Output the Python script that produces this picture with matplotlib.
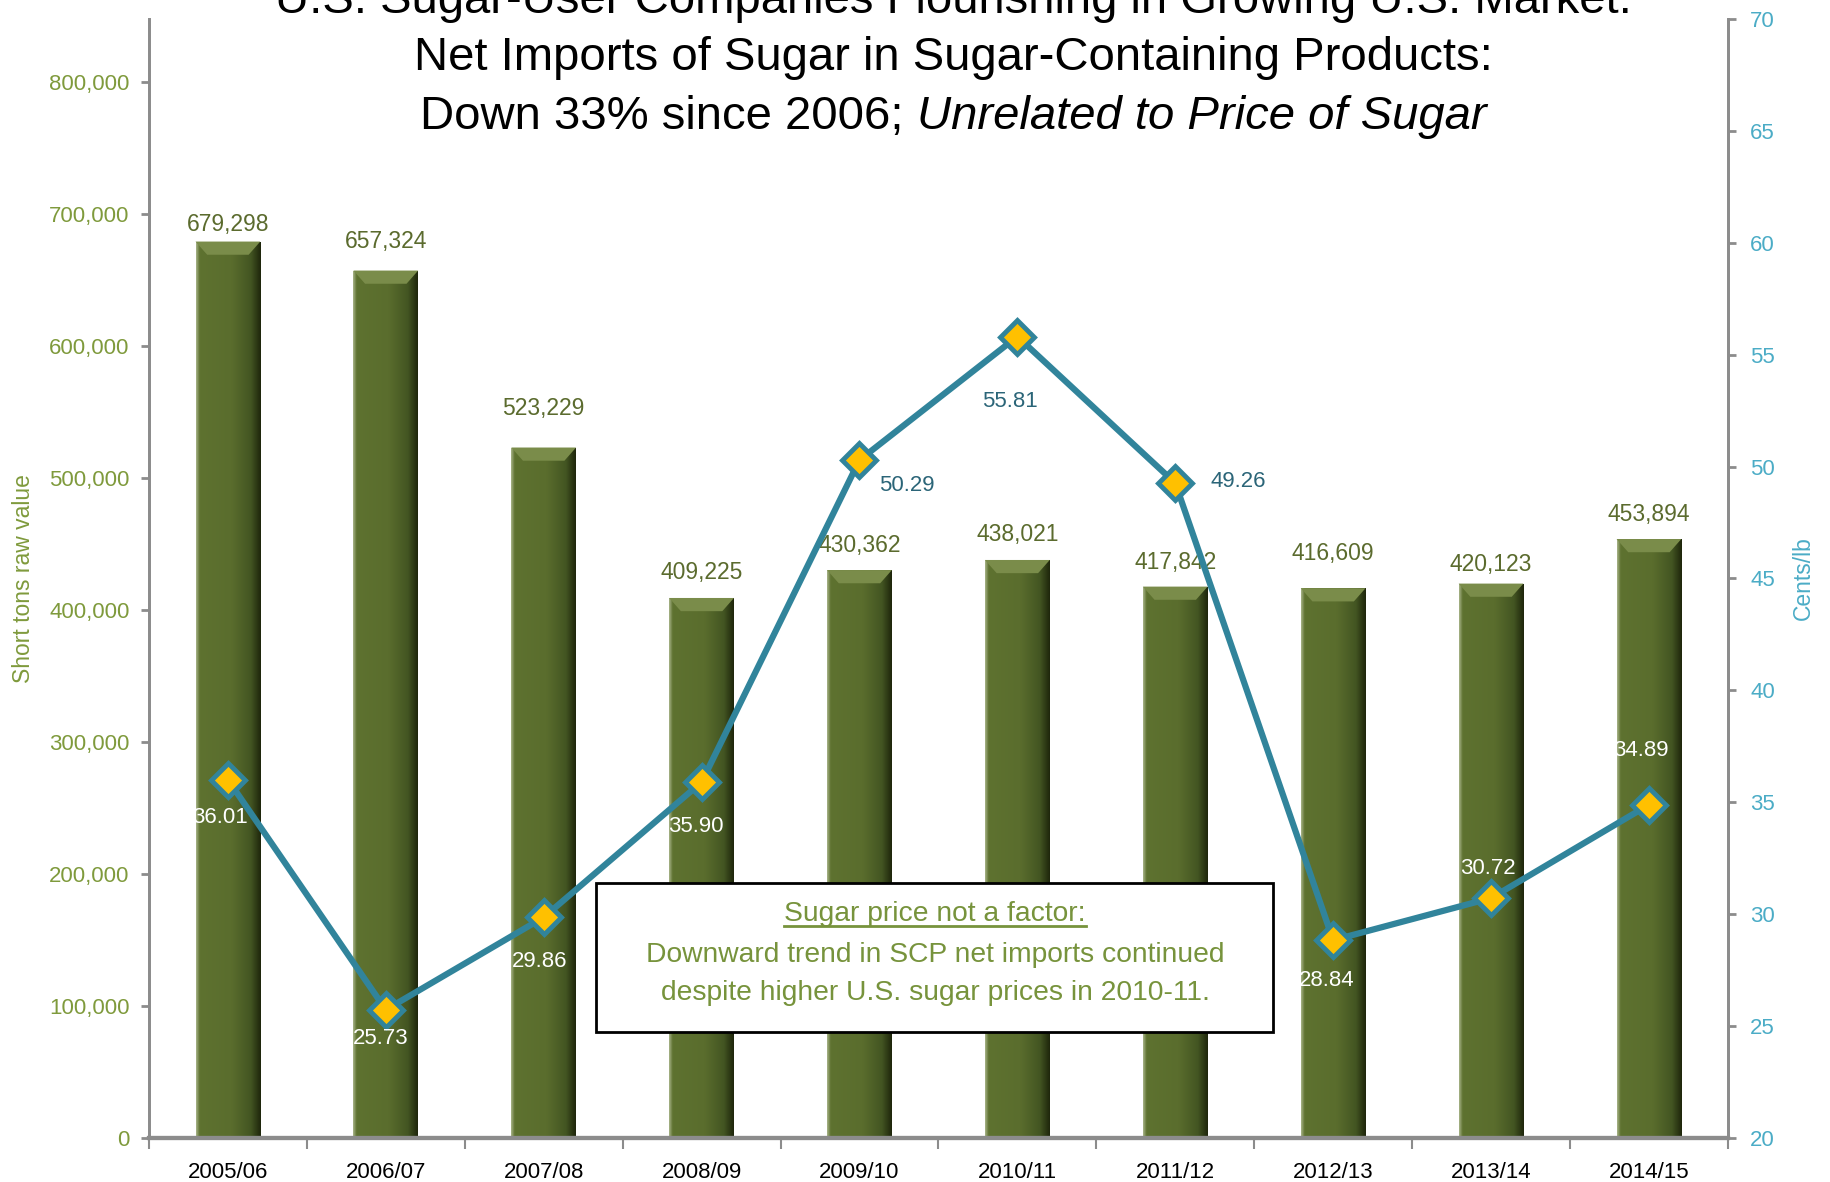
import numpy as np
import matplotlib
matplotlib.use("Agg")
import matplotlib.pyplot as plt
from matplotlib.colors import LinearSegmentedColormap
from matplotlib.patches import Rectangle, Polygon
from matplotlib.ticker import FuncFormatter

plt.rcParams['font.family'] = ['Liberation Sans', 'DejaVu Sans']

years = ['2005/06', '2006/07', '2007/08', '2008/09', '2009/10',
         '2010/11', '2011/12', '2012/13', '2013/14', '2014/15']
net_imports = [679298, 657324, 523229, 409225, 430362,
               438021, 417842, 416609, 420123, 453894]
sugar_price = [36.01, 25.73, 29.86, 35.90, 50.29,
               55.81, 49.26, 28.84, 30.72, 34.89]
left_ticks = [0, 100000, 200000, 300000, 400000, 500000, 600000, 700000, 800000]
right_ticks = [20, 25, 30, 35, 40, 45, 50, 55, 60, 65, 70]

# label placement (offsets in points)
bar_label_dy = [12, 21, 28, 18, 18, 18, 17, 25, 14, 18]
price_offsets = [(-6, -27), (-4, -21), (-3, -32), (-4, -32), (34, -18),
                 (-5, -47), (45, 1), (-5, -29), (-2, 21), (-6, 39)]
price_colors = ['white', 'white', 'white', 'white', '#2B6578',
                '#2B6578', '#2B6578', 'white', 'white', 'white']

OLIVE_TXT = '#5B6B2E'
OLIVE_LIGHT = '#7F9A3C'
TEAL = '#31849B'
TEAL_LIGHT = '#4BACC6'
GREY = '#8C8C8C'

fig = plt.figure(figsize=(18.3, 11.82), dpi=100)
ax = fig.add_axes([0.0814, 0.0372, 0.8628, 0.9468])
ax2 = ax.twinx()

x = np.arange(len(years))
bars = ax.bar(x, net_imports, width=0.41, color='#586B2C', zorder=2)

# shaded bar faces
bar_cmap = LinearSegmentedColormap.from_list(
    'bar', [(0, '#A3B083'), (0.05, '#5E7230'), (0.55, '#5A6D2D'),
            (0.85, '#435522'), (1, '#1F270C')])
grad = np.linspace(0, 1, 100).reshape(1, -1)
for b, dy in zip(bars, bar_label_dy):
    x0, w, h = b.get_x(), b.get_width(), b.get_height()
    im = ax.imshow(grad, cmap=bar_cmap, aspect='auto', zorder=2,
                   extent=(x0, x0 + w, 0, h), interpolation='bilinear')
    im.set_clip_path(b)
    bev = 10000
    ax.add_patch(Polygon([(x0, h), (x0 + w, h), (x0 + w * 0.82, h - bev),
                          (x0 + w * 0.18, h - bev)], closed=True,
                         facecolor='#7A8C4A', edgecolor='none', zorder=3))
    ax.annotate(f'{h:,.0f}', xy=(x0 + w / 2, h), xytext=(0, dy),
                textcoords='offset points', ha='center', va='center',
                fontsize=16.5, color=OLIVE_TXT, zorder=4)

ax.set_xlim(-0.5, 9.5)
ax.set_ylim(0, 848000)
ax.set_yticks(left_ticks)
ax.yaxis.set_major_formatter(FuncFormatter(lambda v, p: f'{v:,.0f}'))
ax.tick_params(axis='y', colors=GREY, labelcolor=OLIVE_LIGHT, labelsize=16,
               length=6, width=2, direction='out', pad=8)
ax.set_xticks(x)
ax.set_xticklabels(years)
ax.set_xticks(np.arange(-0.5, 10, 1), minor=True)
ax.tick_params(axis='x', which='major', length=0, labelsize=16,
               labelcolor='black', pad=17)
ax.tick_params(axis='x', which='minor', length=8, width=1.5, colors=GREY)
ax.set_ylabel('Short tons raw value', color=OLIVE_LIGHT, fontsize=16.5, labelpad=10)

ax2.plot(x, sugar_price, color=TEAL, linewidth=4.5, marker='D',
         markersize=17, markerfacecolor='#FFC000', markeredgecolor=TEAL,
         markeredgewidth=3.5, zorder=5)
for xi, v, off, c in zip(x, sugar_price, price_offsets, price_colors):
    ax2.annotate(f'{v:.2f}', xy=(xi, v), xytext=off, textcoords='offset points',
                 ha='center', va='center', fontsize=16, color=c, zorder=6)
ax2.set_ylim(20, 70)
ax2.set_yticks(right_ticks)
ax2.tick_params(axis='y', colors=GREY, labelcolor=TEAL_LIGHT, labelsize=16,
                length=6, width=2, direction='out', pad=10)
ax2.set_ylabel('Cents/lb', color=TEAL_LIGHT, fontsize=16.5, labelpad=12)

for a in (ax, ax2):
    a.spines['top'].set_visible(False)
    for s in ('left', 'right', 'bottom'):
        a.spines[s].set_color(GREY)
        a.spines[s].set_linewidth(2)
    a.spines['bottom'].set_linewidth(3)

# title (first line runs off the top of the image, as in the source)
fig.text(0.521, 0.999, 'U.S. Sugar-User Companies Flourishing in Growing U.S. Market:',
         ha='center', va='center', fontsize=34)
fig.text(0.521, 1 - 58 / 1182, 'Net Imports of Sugar in Sugar-Containing Products:',
         ha='center', va='center', fontsize=34)
t1 = fig.text(0.5, 1 - 117 / 1182, 'Down 33% since 2006; ',
              ha='left', va='center', fontsize=34)
t2 = fig.text(0.5, 1 - 117 / 1182, 'Unrelated to Price of Sugar',
              ha='left', va='center', fontsize=34, style='italic')
fig.canvas.draw()
r = fig.canvas.get_renderer()
w1 = t1.get_window_extent(r).width / fig.bbox.width
w2 = t2.get_window_extent(r).width / fig.bbox.width
start = 0.521 - (w1 + w2) / 2
t1.set_x(start)
t2.set_x(start + w1)

# note box
fig.patches.append(Rectangle((0.3257, 0.127), 0.3699, 0.126,
                             transform=fig.transFigure, facecolor='white',
                             edgecolor='black', linewidth=2, zorder=10))
BOX_TXT = '#77933C'
hd = fig.text(0.511, 1 - 914 / 1182, 'Sugar price not a factor:', ha='center',
              va='center', fontsize=20.3, color=BOX_TXT, zorder=11)
fig.text(0.511, 1 - 955 / 1182, 'Downward trend in SCP net imports continued',
         ha='center', va='center', fontsize=20.3, color=BOX_TXT, zorder=11)
fig.text(0.511, 1 - 993 / 1182, 'despite higher U.S. sugar prices in 2010-11.',
         ha='center', va='center', fontsize=20.3, color=BOX_TXT, zorder=11)
fig.canvas.draw()
bb = hd.get_window_extent(fig.canvas.get_renderer()).transformed(fig.transFigure.inverted())
fig.add_artist(plt.Line2D([bb.x0, bb.x1], [bb.y0 + 0.001, bb.y0 + 0.001],
                          color=BOX_TXT, linewidth=2, transform=fig.transFigure,
                          zorder=11))

fig.savefig('out.png', dpi=100)
